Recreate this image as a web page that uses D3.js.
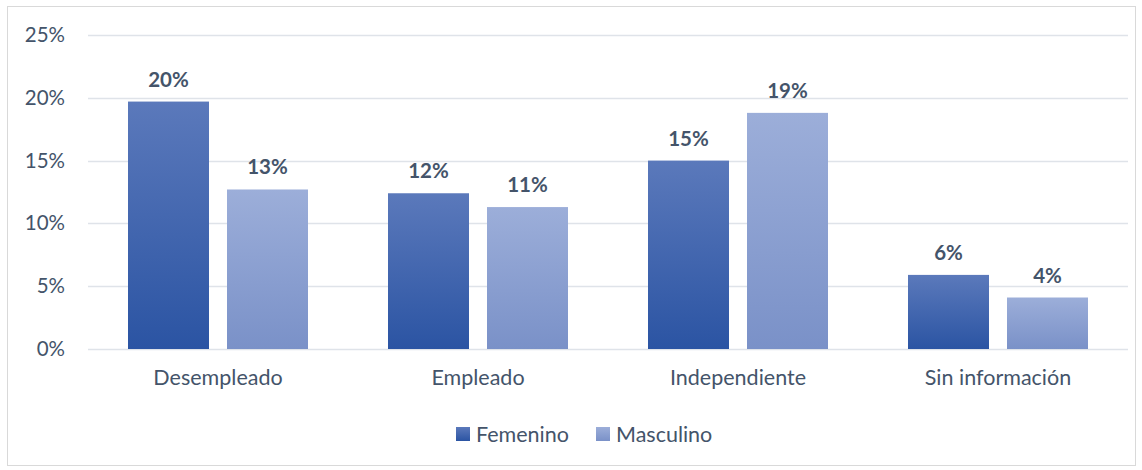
<!DOCTYPE html>
<html>
<head>
<meta charset="utf-8">
<script src="https://cdn.jsdelivr.net/npm/d3@7"></script>
<style>
  body { margin: 0; background: #fff; }
  text { font-family: Lato, "Open Sans", sans-serif; }
</style>
</head>
<body>
<div class="board"></div>
<script>
var categories = ['Desempleado', 'Empleado', 'Independiente', 'Sin información'];
var series = ['Femenino', 'Masculino'];
var femenino = [19.7, 12.4, 15.0, 5.9];
var masculino = [12.7, 11.3, 18.8, 4.1];
var labelsF = ['20%', '12%', '15%', '6%'];
var labelsM = ['13%', '11%', '19%', '4%'];
var yTicks = [0, 5, 10, 15, 20, 25];

var width = 1142, height = 470;
var textColor = '#44546a';

var svg = d3.select('.board').append('svg')
            .attr('width', width)
            .attr('height', height);

// gradients
var defs = svg.append('defs');
var grads = [['gF', '#5b79bb', '#2b54a3'], ['gM', '#9caed9', '#7a91c8']];
grads.forEach(function(g) {
  var lg = defs.append('linearGradient').attr('id', g[0])
               .attr('x1', 0).attr('y1', 0).attr('x2', 0).attr('y2', 1);
  lg.append('stop').attr('offset', '0%').attr('stop-color', g[1]);
  lg.append('stop').attr('offset', '100%').attr('stop-color', g[2]);
});

// chart border
svg.append('rect')
   .attr('x', 7.5).attr('y', 6.5)
   .attr('width', 1128).attr('height', 459)
   .attr('fill', 'none')
   .attr('stroke', '#d9d9d9');

var x = d3.scaleBand().domain(categories).range([88, 1128]);
var y = d3.scaleLinear().domain([0, 25]).range([349, 35]);

var inner = d3.scaleBand().domain(series)
              .range([40, x.bandwidth() - 40])
              .paddingInner(18 / 99);

// gridlines
svg.append('g').selectAll('line')
   .data(yTicks)
   .enter()
   .append('line')
   .attr('x1', 88).attr('x2', 1128)
   .attr('y1', function(d) { return Math.round(y(d)) + 0.5; })
   .attr('y2', function(d) { return Math.round(y(d)) + 0.5; })
   .attr('stroke', '#dfe3e9')
   .attr('stroke-width', 1.5);

// y axis labels
var yAxis = d3.axisLeft(y).tickValues(yTicks)
              .tickFormat(function(d) { return d + '%'; })
              .tickSize(0).tickPadding(0);
var ya = svg.append('g').attr('transform', 'translate(65,0)').call(yAxis);
ya.select('.domain').remove();
ya.selectAll('text')
  .attr('fill', textColor)
  .style('font-size', '20.5px')
  .style('font-family', 'Lato, "Open Sans", sans-serif');

// x axis labels
var xAxis = d3.axisBottom(x).tickSize(0).tickPadding(0);
var xa = svg.append('g').attr('transform', 'translate(0,370)').call(xAxis);
xa.select('.domain').remove();
xa.selectAll('text')
  .attr('fill', textColor)
  .style('font-size', '21.5px')
  .style('font-family', 'Lato, "Open Sans", sans-serif');

var rows = categories.map(function(c, i) {
  return [
    { cat: c, s: 'Femenino', v: femenino[i], label: labelsF[i], fill: 'url(#gF)' },
    { cat: c, s: 'Masculino', v: masculino[i], label: labelsM[i], fill: 'url(#gM)' }
  ];
});

var groups = svg.selectAll('g.grp')
                .data(rows)
                .enter()
                .append('g')
                .attr('class', 'grp')
                .attr('transform', function(d) { return 'translate(' + x(d[0].cat) + ',0)'; });

groups.selectAll('rect')
      .data(function(d) { return d; })
      .enter()
      .append('rect')
      .attr('x', function(d) { return inner(d.s); })
      .attr('width', inner.bandwidth())
      .attr('y', function(d) { return y(d.v); })
      .attr('height', function(d) { return y(0) - y(d.v); })
      .attr('fill', function(d) { return d.fill; });

groups.selectAll('text.lbl')
      .data(function(d) { return d; })
      .enter()
      .append('text')
      .attr('class', 'lbl')
      .attr('x', function(d) { return inner(d.s) + inner.bandwidth() / 2; })
      .attr('y', function(d) { return y(d.v) - 15; })
      .attr('text-anchor', 'middle')
      .attr('fill', textColor)
      .style('font-size', '20.5px')
      .style('font-weight', 'bold')
      .text(function(d) { return d.label; });

// legend
var legend = svg.append('g').attr('transform', 'translate(456,427)');
var legX = [0, 140];
series.forEach(function(s, i) {
  legend.append('rect')
        .attr('x', legX[i]).attr('y', 0)
        .attr('width', 14).attr('height', 14)
        .attr('fill', i === 0 ? 'url(#gF)' : 'url(#gM)');
  legend.append('text')
        .attr('x', legX[i] + 20).attr('y', 15)
        .attr('fill', textColor)
        .style('font-size', '21.5px')
        .text(s);
});
</script>
</body>
</html>
